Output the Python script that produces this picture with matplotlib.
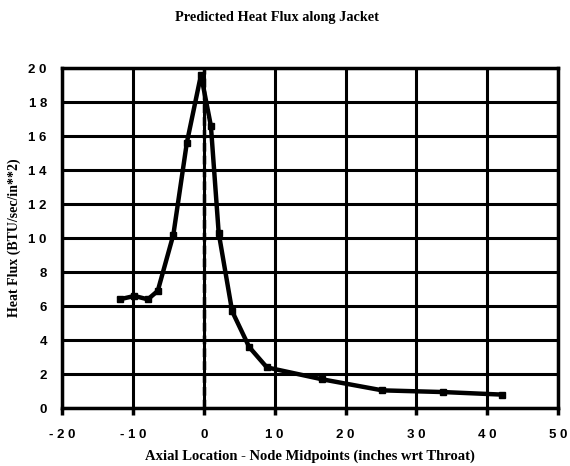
import numpy as np
import matplotlib
matplotlib.use("Agg")
import matplotlib.pyplot as plt

# axial location (inches wrt throat) and predicted heat flux (BTU/sec/in**2)
axial_loc = [-11.9, -9.8, -7.9, -6.5, -4.3, -2.4, -0.4, 1.0, 2.1, 4.0, 6.4, 8.9, 16.7, 25.2, 33.8, 42.1]
heat_flux = [6.4, 6.6, 6.4, 6.9, 10.2, 15.6, 19.6, 16.6, 10.3, 5.7, 3.6, 2.4, 1.7, 1.05, 0.95, 0.8]

xticks = [-20, -10, 0, 10, 20, 30, 40, 50]
yticks = [0, 2, 4, 6, 8, 10, 12, 14, 16, 18, 20]

serif = ["Liberation Serif", "DejaVu Serif"]
sans = ["Liberation Sans", "DejaVu Sans"]

fig = plt.figure(figsize=(5.7, 4.66), dpi=100)
ax = fig.add_axes([0.109, 0.124, 0.870, 0.730])

ax.plot(axial_loc, heat_flux, '-', color='black', lw=3.2, zorder=4)
ax.plot(axial_loc, heat_flux, 's', color='black', ms=5, zorder=5)
ax.axvline(0, color='black', lw=2.5, ls=(0, (2.5, 1.2)), zorder=3)

ax.set_xlim(-20, 50)
ax.set_ylim(0, 20)
ax.set_xticks(xticks)
ax.set_yticks(yticks)
ax.set_xticklabels([(" ".join(str(t))) for t in xticks], fontfamily=sans, fontweight='bold', fontsize=9.5)
ax.set_yticklabels([(" ".join(str(t))) if t >= 10 else str(t) for t in yticks], fontfamily=sans, fontweight='bold', fontsize=9.5)

ax.grid(True, color='black', lw=2.2)
for s in ax.spines.values():
    s.set_linewidth(2.5)
ax.tick_params(axis='x', direction='out', length=5, width=2.5, pad=10)
ax.tick_params(axis='y', length=0, pad=11)

ax.set_xlabel("Axial Location - Node Midpoints (inches wrt Throat)", fontfamily=serif,
              fontweight='bold', fontsize=10.5, labelpad=6)
ax.set_ylabel("Heat Flux (BTU/sec/in**2)", fontfamily=serif, fontweight='bold', fontsize=10, labelpad=5)
fig.text(0.486, 0.962, "Predicted Heat Flux along Jacket", fontfamily=serif, fontweight='bold',
         fontsize=10.3, ha='center', va='center')

fig.savefig("out.png", dpi=100)
